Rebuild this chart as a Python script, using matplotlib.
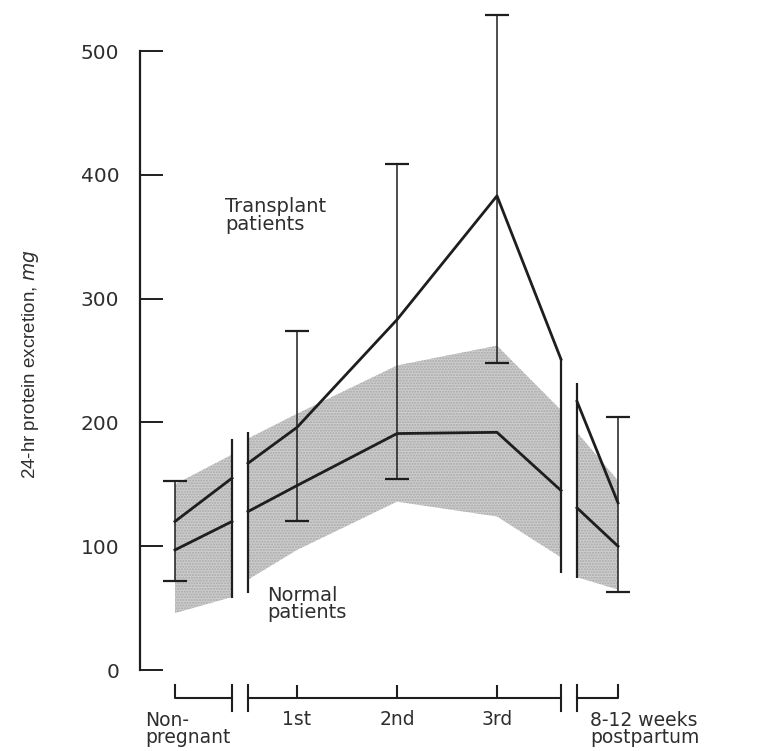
import matplotlib
matplotlib.use("Agg")
import matplotlib.pyplot as plt
import numpy as np

# period labels under the x axis
periods = ["Non-\npregnant", "1st", "2nd", "3rd", "8-12 weeks\npostpartum"]

# mean 24-hr protein excretion (mg), drawn in three pieces split by the axis breaks
tx_nonpreg = [120, 155]
tx_preg = [167, 196, 283, 383, 251]
tx_post = [217, 135]
nm_nonpreg = [97, 120]
nm_preg = [128, 149, 191, 192, 145]
nm_post = [131, 100]

# shaded normal range
band_hi_nonpreg = [150, 174]
band_lo_nonpreg = [46, 59]
band_hi_preg = [187, 207, 246, 262, 210]
band_lo_preg = [73, 97, 136, 124, 91]
band_hi_post = [192, 153]
band_lo_post = [75, 65]

# error bars at non-pregnant, 1st, 2nd, 3rd, postpartum
err_lo = [72, 120, 154, 248, 63]
err_hi = [153, 274, 409, 529, 204]

# uncapped range lines at the break edges
edge_lo = [58, 62, 78, 74]
edge_hi = [187, 192, 251, 232]

yticks = [0, 100, 200, 300, 400, 500]

# x layout (1st trimester = 1, 2nd = 2, 3rd = 3)
x_nonpreg = [-0.22, 0.35]
x_preg = [0.51, 1.0, 2.0, 3.0, 3.64]
x_post = [3.80, 4.21]
x_err = [-0.22, 1.0, 2.0, 3.0, 4.21]
x_edge = [0.35, 0.51, 3.64, 3.80]

ink = "#1e1e1e"
txt = "#2e2e2e"
fig = plt.figure(figsize=(7.6, 7.51), dpi=100)
ax = fig.add_axes([0, 0, 1, 1])
ax.set_xlim(-1.97, 5.63)
ax.set_ylim(-65.4, 541.2)

# normal band
for xs, lo, hi in [(x_nonpreg, band_lo_nonpreg, band_hi_nonpreg),
                   (x_preg, band_lo_preg, band_hi_preg),
                   (x_post, band_lo_post, band_hi_post)]:
    ax.fill_between(xs, lo, hi, facecolor="#cdcdcd", edgecolor="#a8a8a8",
                    hatch="......", linewidth=0, zorder=1)

# mean lines
for xs, ys in [(x_nonpreg, tx_nonpreg), (x_preg, tx_preg), (x_post, tx_post),
               (x_nonpreg, nm_nonpreg), (x_preg, nm_preg), (x_post, nm_post)]:
    ax.plot(xs, ys, color=ink, lw=2.0, zorder=3)

# error bars
lo = np.array(err_lo)
hi = np.array(err_hi)
ax.errorbar(x_err, (lo + hi) / 2, yerr=(hi - lo) / 2, fmt="none", ecolor=ink,
            elinewidth=1.1, capsize=8.5, capthick=1.6, zorder=2)
ax.vlines(x_edge, edge_lo, edge_hi, color=ink, lw=1.6, zorder=2)

# y axis
for s in ["top", "right", "bottom"]:
    ax.spines[s].set_visible(False)
ax.spines["left"].set_position(("data", -0.57))
ax.spines["left"].set_bounds(0, 500)
ax.spines["left"].set_linewidth(1.6)
ax.spines["left"].set_color(ink)
ax.set_yticks(yticks)
ax.set_xticks([])
ax.tick_params(axis="y", direction="in", length=16.5, width=1.4, color=ink,
               pad=15, labelsize=14.5, labelcolor=txt)
ax.set_ylabel("24-hr protein excretion, $\\it{mg}$", fontsize=13.5, color=txt,
              family="Liberation Sans")
ax.yaxis.set_label_coords(0.054, 0.515)

# brackets under the axis
y_top, y_mid, y_bot = -12, -22.6, -33
brk = dict(color=ink, lw=1.5, clip_on=False)
ax.plot([x_nonpreg[0], x_nonpreg[0], x_nonpreg[1]], [y_top, y_mid, y_mid], **brk)
ax.plot([x_nonpreg[1], x_nonpreg[1]], [y_top, y_bot], **brk)
ax.plot([x_preg[0], x_preg[0]], [y_top, y_bot], **brk)
ax.plot([x_preg[0], x_preg[-1]], [y_mid, y_mid], **brk)
ax.vlines([1, 2, 3], y_top, y_mid, **brk)
ax.plot([x_preg[-1], x_preg[-1]], [y_top, y_bot], **brk)
ax.plot([x_post[0], x_post[0]], [y_top, y_bot], **brk)
ax.plot([x_post[0], x_post[1], x_post[1]], [y_mid, y_mid, y_top], **brk)

# va="baseline" on multi-line text anchors the last line
tkw = dict(fontsize=13.5, color=txt, linespacing=0.88, va="baseline")
ax.text(-0.52, -59, periods[0], ha="left", **tkw)
for xc, lab in zip([1, 2, 3], periods[1:4]):
    ax.text(xc, -44.4, lab, ha="center", **tkw)
ax.text(3.93, -59, periods[4], ha="left", **tkw)

ax.text(0.28, 355.5, "Transplant\npatients", ha="left", fontsize=14, color=txt,
        linespacing=0.9, va="baseline")
ax.text(0.70, 42, "Normal\npatients", ha="left", fontsize=14, color=txt,
        linespacing=0.9, va="baseline")

fig.savefig("out.png", dpi=100)
